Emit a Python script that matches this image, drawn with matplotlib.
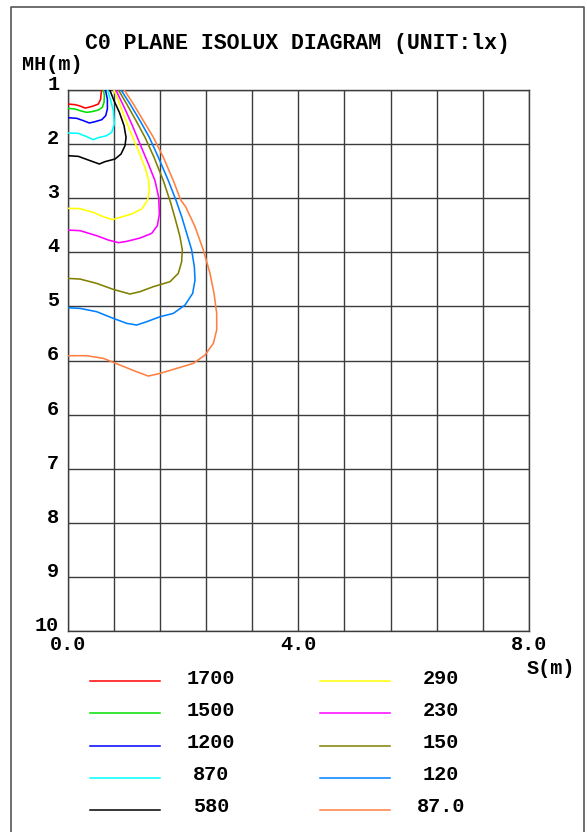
import numpy as np
import matplotlib
matplotlib.use("Agg")
import matplotlib.pyplot as plt
from matplotlib.lines import Line2D

# isolux levels (lx) and their colours
levels = ["1700", "1500", "1200", "870", "580", "290", "230", "150", "120", "87.0"]
colors = ["#ff0000", "#00e000", "#0000ff", "#00ffff", "#000000",
          "#ffff00", "#ff00ff", "#808000", "#0080ff", "#ff8040"]

# contour traces: S (m) and MH (m)
s_1700 = [0, 0.127, 0.214, 0.301, 0.358, 0.445, 0.532, 0.572, 0.578, 0.59]
h_1700 = [1.233, 1.244, 1.266, 1.300, 1.289, 1.266, 1.233, 1.150, 1.067, 1.0]

s_1500 = [0, 0.127, 0.214, 0.329, 0.416, 0.532, 0.601, 0.630, 0.636, 0.62]
h_1500 = [1.305, 1.316, 1.344, 1.372, 1.361, 1.333, 1.288, 1.205, 1.094, 1.0]

s_1200 = [0, 0.156, 0.272, 0.376, 0.474, 0.590, 0.659, 0.688, 0.688, 0.655]
h_1200 = [1.460, 1.471, 1.510, 1.549, 1.527, 1.494, 1.427, 1.316, 1.150, 1.0]

s_870 = [0, 0.185, 0.329, 0.445, 0.532, 0.676, 0.763, 0.809, 0.792, 0.746, 0.69]
h_870 = [1.715, 1.721, 1.776, 1.826, 1.793, 1.760, 1.704, 1.566, 1.344, 1.177, 1.0]

s_580 = [0, 0.185, 0.358, 0.549, 0.647, 0.821, 0.925, 0.994, 1.012, 0.977, 0.896, 0.803, 0.73]
h_580 = [2.093, 2.104, 2.165, 2.231, 2.192, 2.148, 2.065, 1.926, 1.788, 1.593, 1.372, 1.177, 1.0]

s_290 = [0, 0.214, 0.445, 0.618, 0.775, 0.908, 1.110, 1.283, 1.381, 1.416, 1.405,
         1.341, 1.225, 1.081, 0.965, 0.879, 0.80]
h_290 = [2.969, 2.974, 3.036, 3.108, 3.157, 3.119, 3.063, 2.980, 2.841, 2.675, 2.509,
         2.287, 2.009, 1.677, 1.399, 1.177, 1.0]

s_230 = [0, 0.214, 0.503, 0.705, 0.879, 1.023, 1.254, 1.457, 1.555, 1.590, 1.578,
         1.514, 1.399, 1.254, 1.110, 0.980, 0.835]
h_230 = [3.33, 3.34, 3.424, 3.496, 3.540, 3.518, 3.463, 3.385, 3.257, 3.063, 2.786,
         2.509, 2.231, 1.898, 1.566, 1.288, 1.0]

s_150 = [0, 0.213, 0.502, 0.791, 1.080, 1.254, 1.485, 1.774, 1.918, 1.976, 1.988,
         1.947, 1.870, 1.790, 1.659, 1.497, 1.341, 1.185, 1.023, 0.88]
h_150 = [4.134, 4.145, 4.217, 4.317, 4.394, 4.355, 4.272, 4.189, 4.050, 3.856, 3.662,
         3.440, 3.163, 2.890, 2.509, 2.120, 1.788, 1.510, 1.233, 1.0]

s_120 = [0, 0.213, 0.502, 0.791, 1.023, 1.196, 1.369, 1.601, 1.832, 2.035, 2.167,
         2.208, 2.196, 2.150, 2.064, 1.977, 1.880, 1.746, 1.572, 1.416, 1.254, 1.081, 0.925]
h_120 = [4.622, 4.633, 4.688, 4.799, 4.882, 4.910, 4.855, 4.772, 4.716, 4.577, 4.383,
         4.161, 3.940, 3.662, 3.385, 3.108, 2.840, 2.509, 2.120, 1.788, 1.510, 1.233, 1.0]

s_87 = [0, 0.329, 0.618, 0.907, 1.196, 1.398, 1.601, 1.890, 2.179, 2.381, 2.526,
        2.584, 2.584, 2.537, 2.468, 2.352, 2.208, 2.045, 1.960, 1.832, 1.659, 1.486,
        1.312, 1.139, 0.98]
h_87 = [5.42, 5.42, 5.464, 5.576, 5.687, 5.759, 5.715, 5.631, 5.548, 5.409, 5.215,
        4.993, 4.716, 4.383, 4.050, 3.662, 3.274, 2.941, 2.830, 2.509, 2.120, 1.788,
        1.510, 1.233, 1.0]

s_traces = [s_1700, s_1500, s_1200, s_870, s_580, s_290, s_230, s_150, s_120, s_87]
h_traces = [h_1700, h_1500, h_1200, h_870, h_580, h_290, h_230, h_150, h_120, h_87]

# grid / tick labels
x_grid = [0.8 * i for i in range(11)]
x_labels = ["0.0", "", "", "", "", "4.0", "", "", "", "", "8.0"]
y_grid = [1 + 0.9 * i for i in range(11)]
y_labels = ["1", "2", "3", "4", "5", "6", "6", "7", "8", "9", "10"]

W, H = 587, 832
fig = plt.figure(figsize=(W / 100, H / 100), dpi=100)

def fx(px):
    return px / W

def fy(py):
    return 1 - py / H

mono = "Liberation Mono"
fs = 14.5

# outer frame
fig.add_artist(Line2D([fx(10.5), fx(10.5), fx(584), fx(584)],
                      [fy(840), fy(7), fy(7), fy(840)],
                      color="#555555", lw=1.2))

ax = fig.add_axes([fx(67.7), fy(631), fx(529) - fx(67.7), fy(90) - fy(631)])
for s, h, c in zip(s_traces, h_traces, colors):
    ax.plot(s, h, color=c, lw=1.15, solid_joinstyle="round", zorder=3)

ax.set_xlim(0, 8)
ax.set_ylim(10, 1)
ax.set_xticks(x_grid, labels=x_labels)
ax.set_yticks(y_grid, labels=y_labels)
ax.grid(True, color="#3c3c3c", lw=1.0)
ax.tick_params(length=0, labelsize=fs)
ax.tick_params(axis="x", pad=3)
ax.tick_params(axis="y", pad=6)
for lab in ax.get_xticklabels() + ax.get_yticklabels():
    lab.set_fontfamily(mono)
    lab.set_fontweight("bold")
for lab in ax.get_yticklabels():
    lab.set_verticalalignment("baseline")
for sp in ax.spines.values():
    sp.set_color("#3c3c3c")
    sp.set_linewidth(1.0)

fig.text(fx(297), fy(43), "C0 PLANE ISOLUX DIAGRAM (UNIT:lx)", ha="center", va="center",
         family=mono, weight="bold", fontsize=15.5)
fig.text(fx(22), fy(65), "MH(m)", ha="left", va="center", family=mono, weight="bold",
         fontsize=fs)
fig.text(fx(527), fy(669), "S(m)", ha="left", va="center", family=mono, weight="bold",
         fontsize=fs)

# legend
rows = [678, 710, 742.5, 775, 807]
for i, (lv, c) in enumerate(zip(levels, colors)):
    col = i // 5
    py = rows[i % 5]
    x0, x1, xt = (90, 160, 211) if col == 0 else (320, 390, 441)
    fig.add_artist(Line2D([fx(x0), fx(x1)], [fy(py + 3), fy(py + 3)], color=c, lw=1.1))
    fig.text(fx(xt), fy(py), lv, ha="center", va="center", family=mono, weight="bold",
             fontsize=fs)

fig.savefig("out.png", dpi=100)
